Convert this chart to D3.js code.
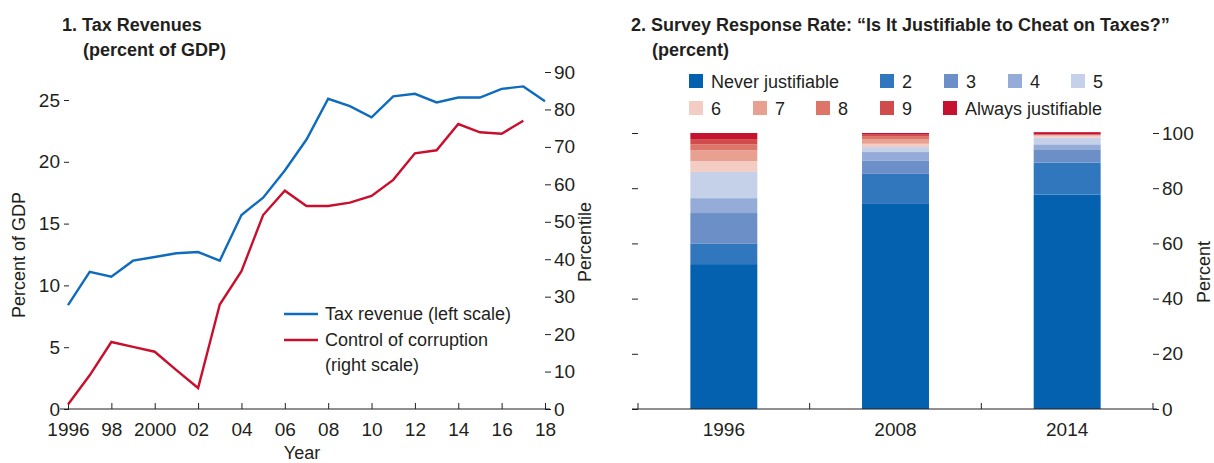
<!DOCTYPE html>
<html>
<head>
<meta charset="utf-8">
<script src="https://cdn.jsdelivr.net/npm/d3@7"></script>
<style>
  body { margin: 0; background: #fff; }
  svg { font-family: "Liberation Sans Narrow", "Arial Narrow", "Liberation Sans", sans-serif; }
  .tick text { font-size: 19px; fill: #231f20; }
  .tick line { stroke: #231f20; }
  .title { font-size: 18px; font-weight: bold; fill: #231f20; }
  .lbl { font-size: 18px; fill: #231f20; }
</style>
</head>
<body>
<svg id="chart" width="1214" height="463"></svg>
<script>
// Panel 1: tax revenues and control of corruption
const years = d3.range(1996, 2019);
const taxRevenue = [8.4, 11.1, 10.7, 12.0, 12.3, 12.6, 12.7, 12.0, 15.7, 17.1, 19.3, 21.8, 25.1,
  24.5, 23.6, 25.3, 25.5, 24.8, 25.2, 25.2, 25.9, 26.1, 24.9];
const corruption = [1.2, 9.0, 17.9, 16.6, 15.3, 10.4, 5.6, 27.9, 36.8, 51.8, 58.3, 54.2, 54.2,
  55.1, 56.9, 61.2, 68.3, 69.1, 76.1, 73.9, 73.5, 77.0, null];
const leftTicks = [0, 5, 10, 15, 20, 25];
const rightTicks = [0, 10, 20, 30, 40, 50, 60, 70, 80, 90];
const yearTicks = d3.range(1996, 2019, 2);

// Panel 2: survey responses
const surveyYears = ['1996', '2008', '2014'];
const responses = ['Never justifiable', '2', '3', '4', '5', '6', '7', '8', '9', 'Always justifiable'];
const shares = {
  '1996': [52.5, 7.5, 11.0, 5.4, 9.5, 3.9, 3.9, 2.2, 1.9, 2.2],
  '2008': [74.3, 10.9, 4.7, 3.2, 1.8, 1.2, 1.7, 1.1, 0.5, 0.6],
  '2014': [77.7, 11.6, 4.8, 1.8, 2.4, 0.7, 0.2, 0.15, 0.15, 0.8]
};
const percentTicks = [0, 20, 40, 60, 80, 100];
const responseColors = ['#0461b0', '#3177bd', '#6c8fc8', '#95acd8', '#c5d0e9',
  '#f3cdc4', '#e8a091', '#dd7569', '#d04b4c', '#c41230'];

const svg = d3.select('#chart');
const ink = '#231f20';

// ---------- panel 1 ----------
const x1 = d3.scaleLinear().domain([1996, 2018]).range([68, 545]);
const yL = d3.scaleLinear().domain([0, 25]).range([409, 100]);
const yR = d3.scaleLinear().domain([0, 90]).range([409, 72]);

const p1 = svg.append('g');

p1.append('text').attr('class', 'title').attr('x', 62).attr('y', 31).text('1. Tax Revenues');
p1.append('text').attr('class', 'title').attr('x', 83).attr('y', 56).text('(percent of GDP)');

p1.append('g')
  .attr('transform', 'translate(69,0)')
  .call(d3.axisLeft(yL).tickValues(leftTicks).tickSize(5).tickPadding(4))
  .call(g => g.select('.domain').remove());

p1.append('g')
  .attr('transform', 'translate(545,0)')
  .call(d3.axisRight(yR).tickValues(rightTicks).tickSize(6).tickPadding(3))
  .call(g => g.select('.domain').remove());

p1.append('g')
  .attr('transform', 'translate(0,409)')
  .call(d3.axisBottom(x1).tickValues(yearTicks).tickSizeInner(-6).tickSizeOuter(0).tickPadding(14)
    .tickFormat(d => d === 1996 ? '1996' : d === 2000 ? '2000' : String(d).slice(2)))
  .call(g => g.select('.domain').remove())
  .call(g => g.selectAll('.tick text').attr('dy', '0.71em'));

p1.append('line').attr('x1', 60).attr('x2', 550).attr('y1', 409).attr('y2', 409)
  .attr('stroke', ink).attr('stroke-width', 1.2);

p1.append('text').attr('class', 'lbl').attr('text-anchor', 'middle')
  .attr('transform', 'translate(25,255) rotate(-90)').text('Percent of GDP');
p1.append('text').attr('class', 'lbl').attr('text-anchor', 'middle')
  .attr('transform', 'translate(591,242) rotate(-90)').text('Percentile');
p1.append('text').attr('class', 'lbl').attr('text-anchor', 'middle')
  .attr('x', 302).attr('y', 459).text('Year');

const taxLine = d3.line().x((d, i) => x1(years[i])).y(d => yL(d));
const corLine = d3.line().defined(d => d !== null).x((d, i) => x1(years[i])).y(d => yR(d));

p1.append('path').datum(taxRevenue).attr('d', taxLine)
  .attr('fill', 'none').attr('stroke', '#0f6cbd').attr('stroke-width', 2.4);
p1.append('path').datum(corruption).attr('d', corLine)
  .attr('fill', 'none').attr('stroke', '#c8102e').attr('stroke-width', 2.4);

// legend
const lg1 = p1.append('g');
lg1.append('line').attr('x1', 284).attr('x2', 318).attr('y1', 314).attr('y2', 314)
  .attr('stroke', '#0f6cbd').attr('stroke-width', 2.4);
lg1.append('text').attr('class', 'lbl').attr('x', 325).attr('y', 320).text('Tax revenue (left scale)');
lg1.append('line').attr('x1', 284).attr('x2', 318).attr('y1', 340).attr('y2', 340)
  .attr('stroke', '#c8102e').attr('stroke-width', 2.4);
lg1.append('text').attr('class', 'lbl').attr('x', 325).attr('y', 346).text('Control of corruption');
lg1.append('text').attr('class', 'lbl').attr('x', 325).attr('y', 371).text('(right scale)');

// ---------- panel 2 ----------
const x2 = d3.scaleBand().domain(surveyYears).range([638, 1153])
  .paddingInner(0.61).paddingOuter(0.305);
const yB = d3.scaleLinear().domain([0, 100]).range([409, 133]);

const p2 = svg.append('g');
p2.append('text').attr('class', 'title').attr('x', 631).attr('y', 31)
  .text('2. Survey Response Rate: \u201cIs It Justifiable to Cheat on Taxes?\u201d');
p2.append('text').attr('class', 'title').attr('x', 652).attr('y', 56).text('(percent)');

// stacked data
const rows = surveyYears.map(y => {
  const r = { year: y };
  responses.forEach((k, i) => { r[k] = shares[y][i]; });
  return r;
});
const series = d3.stack().keys(responses)(rows);

p2.selectAll('g.layer').data(series).join('g')
  .attr('class', 'layer')
  .attr('fill', (d, i) => responseColors[i])
  .selectAll('rect').data(d => d).join('rect')
  .attr('x', d => x2(d.data.year))
  .attr('width', x2.bandwidth())
  .attr('y', d => yB(d[1]))
  .attr('height', d => yB(d[0]) - yB(d[1]));

p2.append('g')
  .attr('transform', 'translate(638,0)')
  .call(d3.axisLeft(yB).tickValues(percentTicks).tickSize(6).tickFormat(''))
  .call(g => g.select('.domain').remove());

p2.append('g')
  .attr('transform', 'translate(1153,0)')
  .call(d3.axisRight(yB).tickValues(percentTicks).tickSize(6).tickPadding(3))
  .call(g => g.select('.domain').remove());

const bounds = [638].concat(surveyYears.map(y => x2(y) + x2.bandwidth() + x2.step() * x2.paddingInner() / 2));
bounds[bounds.length - 1] = 1153;
p2.selectAll('line.xt').data(bounds).join('line')
  .attr('class', 'xt')
  .attr('x1', d => d).attr('x2', d => d).attr('y1', 403).attr('y2', 409)
  .attr('stroke', ink);

p2.append('g')
  .attr('transform', 'translate(0,409)')
  .call(d3.axisBottom(x2).tickSize(0).tickPadding(14))
  .call(g => g.select('.domain').remove())
  .call(g => g.selectAll('.tick text').attr('dy', '0.71em'));

p2.append('line').attr('x1', 632).attr('x2', 1157).attr('y1', 409).attr('y2', 409)
  .attr('stroke', ink).attr('stroke-width', 1.2);

p2.append('text').attr('class', 'lbl').attr('text-anchor', 'middle')
  .attr('transform', 'translate(1210,272) rotate(-90)').text('Percent');

// legend
const legendPos = [[689, 81], [880, 81], [944, 81], [1008, 81], [1071, 81],
  [689, 108], [753, 108], [816, 108], [880, 108], [943, 108]];
const lg2 = p2.selectAll('g.leg').data(responses).join('g')
  .attr('class', 'leg')
  .attr('transform', (d, i) => `translate(${legendPos[i][0]},${legendPos[i][1]})`);
lg2.append('rect').attr('x', 0).attr('y', -7).attr('width', 14).attr('height', 14)
  .attr('fill', (d, i) => responseColors[i]);
lg2.append('text').attr('class', 'lbl').attr('x', 22).attr('y', 6.5).text(d => d);
</script>
</body>
</html>
